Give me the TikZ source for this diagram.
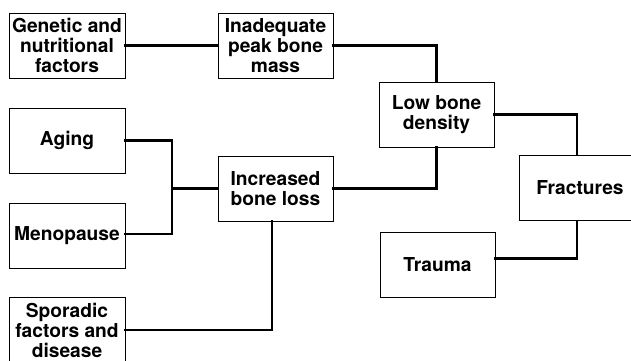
\documentclass[tikz,border=0pt]{standalone}
\usepackage{fontspec}
\setmainfont{TeX Gyre Heros}
\begin{document}
\begin{tikzpicture}[x=1pt,y=-1pt,
  box/.style={draw=black,line width=1pt,inner sep=0pt,minimum width=116pt,minimum height=65pt,
    align=center,font=\fontsize{19.2}{20}\selectfont\bfseries},
  conn/.style={draw=black,line width=2.8pt,line cap=rect}]
\useasboundingbox (0,0) rectangle (631,360);
\clip (0,0) rectangle (631,360);
\node[box] (gen) at (67,45.5) {Genetic and\\nutritional\\factors};
\node[box,minimum width=115pt] (inad) at (275.5,45.5) {Inadequate\\peak bone\\mass};
\node[box,minimum width=115pt] (low) at (436.5,114.5) {Low bone\\density};
\node[box,minimum width=122pt] (frac) at (580,188) {Fractures};
\node[box] (aging) at (67,140.5) {Aging};
\node[box] (meno) at (67,235.5) {Menopause};
\node[box,minimum width=115pt] (incr) at (275.5,188.5) {Increased\\bone loss};
\node[box,minimum width=115pt] (trauma) at (437.5,264.5) {Trauma};
\node[box] (spor) at (67,330) {Sporadic\\factors and\\disease};
\coordinate (j) at (172,188.5);
\draw[conn] (gen.east) -- (inad.west);
\draw[conn] (inad.east) -| (low.north);
\draw[conn] (low.east) -| ([xshift=-3pt]frac.north);
\draw[conn] (low.south) |- (incr.east);
\draw[conn] (aging.east) -| (j) |- ([yshift=1.5pt]meno.east);
\draw[conn] (j) -- (incr.west);
\draw[conn] ([xshift=-3.5pt]incr.south) |- (spor.east);
\draw[conn] ([yshift=6pt]trauma.east) -| ([xshift=-3pt]frac.south);
\end{tikzpicture}
\end{document}
